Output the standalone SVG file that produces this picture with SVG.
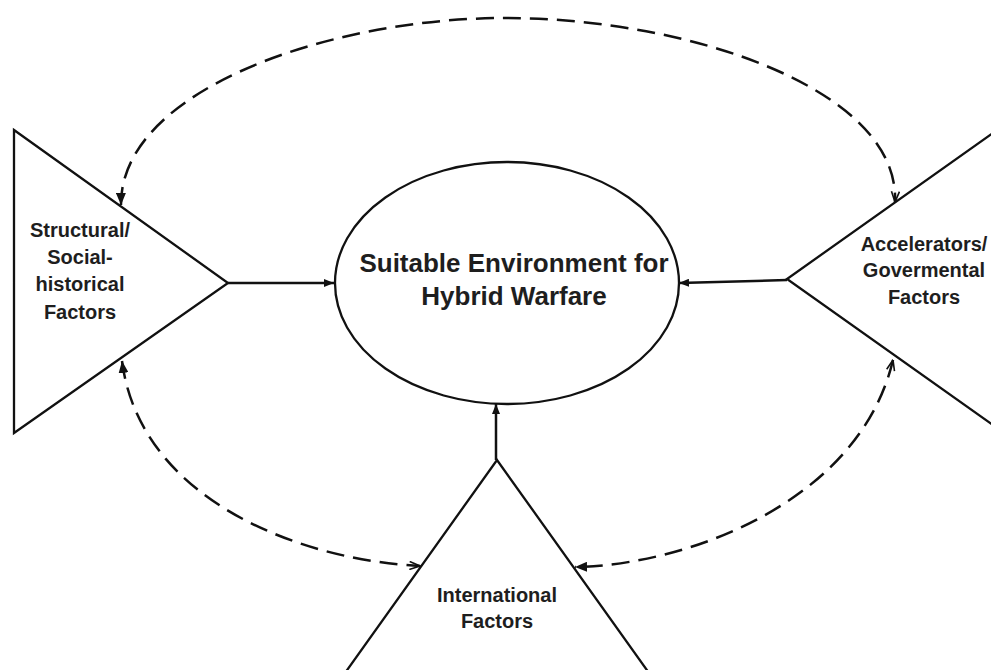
<svg xmlns="http://www.w3.org/2000/svg" width="991" height="670" viewBox="0 0 991 670">
<style>
.shape{fill:none;stroke:#111;stroke-width:2.3;stroke-linejoin:miter}
.lbl{font-family:"Liberation Sans",Arial,sans-serif;font-weight:bold;fill:#1e1e1e;text-anchor:middle}
.solid{fill:none;stroke:#111;stroke-width:2.5}
.dash{fill:none;stroke:#111;stroke-width:2.5;stroke-dasharray:18 9}
</style>
<defs>
<marker id="fa" viewBox="0 0 12 10" refX="12" refY="5" markerWidth="12" markerHeight="10" markerUnits="userSpaceOnUse" orient="auto-start-reverse">
<path d="M0,0 L12,5 L0,10 z" fill="#111"/>
</marker>
<marker id="oa" viewBox="0 0 12 10" refX="11.5" refY="5" markerWidth="12" markerHeight="10" markerUnits="userSpaceOnUse" orient="auto-start-reverse">
<path d="M1,1 L11.5,5 L1,9" fill="none" stroke="#111" stroke-width="1.6"/>
</marker>
<marker id="sa" viewBox="0 0 10 8" refX="10" refY="4" markerWidth="10" markerHeight="8" markerUnits="userSpaceOnUse" orient="auto">
<path d="M0,0 L10,4 L0,8 z" fill="#111"/>
</marker>
</defs>
<rect width="991" height="670" fill="#fff"/>
<g id="center">
<ellipse class="shape" cx="507" cy="283" rx="172" ry="121"/>
<text class="lbl" x="514" y="272" font-size="26">Suitable Environment for</text>
<text class="lbl" x="514" y="305" font-size="26">Hybrid Warfare</text>
</g>
<g id="structural">
<polygon class="shape" points="14,130 228,283 14,433"/>
<text class="lbl" x="80" y="237" font-size="20">Structural/</text>
<text class="lbl" x="80" y="264" font-size="20">Social-</text>
<text class="lbl" x="80" y="291" font-size="20">historical</text>
<text class="lbl" x="80" y="319" font-size="20">Factors</text>
</g>
<g id="accelerators">
<polyline class="shape" points="1000,128 787,279 1000,430"/>
<text class="lbl" x="924" y="251" font-size="20">Accelerators/</text>
<text class="lbl" x="924" y="277" font-size="20">Govermental</text>
<text class="lbl" x="924" y="304" font-size="20">Factors</text>
</g>
<g id="international">
<polyline class="shape" points="340,680 497,460 654,680"/>
<text class="lbl" x="497" y="602" font-size="20">International</text>
<text class="lbl" x="497" y="628" font-size="20">Factors</text>
</g>
<g id="connectors">
<line class="solid" x1="228" y1="283" x2="334" y2="283" marker-end="url(#sa)"/>
<line class="solid" x1="787" y1="280" x2="679" y2="283" marker-end="url(#sa)"/>
<line class="solid" x1="496" y1="460" x2="496" y2="404" marker-end="url(#sa)"/>
<path class="dash" d="M121,205 C120,90 330,18 505,18 C690,18 900,90 895,202" marker-start="url(#fa)" marker-end="url(#oa)"/>
<path class="dash" d="M122,361 C140,500 300,560 420,566" marker-start="url(#fa)" marker-end="url(#oa)"/>
<path class="dash" d="M893,360 C860,500 690,565 575,567" marker-start="url(#oa)" marker-end="url(#fa)"/>
</g>
</svg>
